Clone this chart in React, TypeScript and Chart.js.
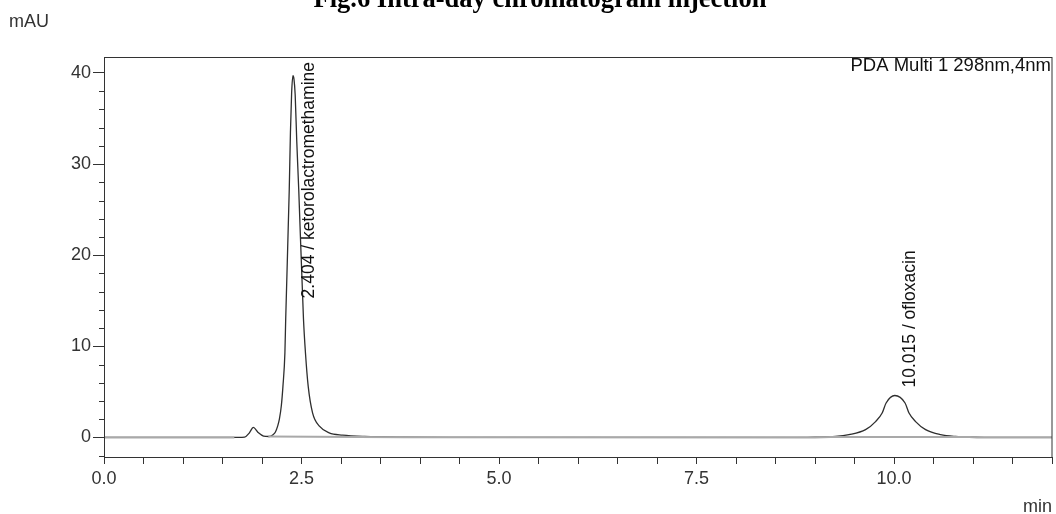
import React, { useEffect, useRef } from 'react';
import { Chart, registerables } from 'chart.js';

Chart.register(...registerables);

const titleText = 'Fig.6 Intra-day chromatogram injection';
const yUnit = 'mAU';
const xUnit = 'min';
const detectorText = 'PDA Multi 1 298nm,4nm';

// chromatogram trace (retention time in min, absorbance in mAU)
const traceTime = [
  0, 0.5, 1.0, 1.5, 1.70, 1.78, 1.84, 1.89, 1.95, 2.02, 2.09, 2.14, 2.17, 2.20, 2.22,
  2.245, 2.265, 2.29, 2.30, 2.345, 2.36, 2.375, 2.392, 2.405, 2.42, 2.44, 2.465, 2.525,
  2.55, 2.585, 2.64, 2.73, 2.85, 3.02, 3.3, 3.8, 4.5, 6.0, 7.5, 8.8, 9.0, 9.26, 9.43,
  9.64, 9.77, 9.85, 9.90, 10.01, 10.14, 10.19, 10.27, 10.40, 10.59, 10.78, 11.0, 11.3, 12.0,
];
const traceValue = [
  0, 0, 0, 0, 0, 0.03, 0.5, 1.1, 0.55, 0.15, 0.1, 0.3, 0.6, 1.3, 2.0,
  3.5, 5.6, 9.3, 13.0, 27.2, 33.5, 37.8, 39.7, 39.3, 37.6, 32.5, 27.2, 13.0,
  9.3, 5.6, 2.7, 1.2, 0.5, 0.25, 0.1, 0.03, 0.01, 0, 0, 0, 0.02, 0.1, 0.3,
  0.85, 1.76, 2.68, 3.78, 4.6, 3.78, 2.68, 1.76, 0.85, 0.3, 0.1, 0.03, 0, 0,
];

// integration baseline drawn by the software (null = gap)
const baselineTime = [0, 1.65, 1.8, 2.08, 3.8, 9.0, 9.2, 10.95, 11.05, 12];
const baselineValue = [0, 0, null, 0.1, 0.03, 0.0, 0.04, 0.04, 0, 0];

// peak annotations
const peakTime = [2.404, 10.015];
const peakHeight = [39.7, 4.6];
const peakName = ['ketorolactromethamine', 'ofloxacin'];

// axes
const xMin = 0;
const xMax = 12;
const xMinorStep = 0.5;
const xLabelStep = 2.5;
const yMin = -2.15;
const yMax = 41.75;
const yTickValues = [-2, 0, 2, 4, 6, 8, 10, 12, 14, 16, 18, 20, 22, 24, 26, 28, 30, 32, 34, 36, 38, 40];
const yLabelStep = 10;

const FONT = '"Liberation Sans", Arial, sans-serif';
const INK = '#333';

const decorPlugin = {
  id: 'decor',
  afterDatasetsDraw(chart: any) {
    const { ctx, chartArea, scales } = chart;
    const x = scales.x;
    const y = scales.y;
    ctx.save();
    // frame
    ctx.strokeStyle = INK;
    ctx.lineWidth = 1;
    ctx.strokeRect(chartArea.left + 0.5, chartArea.top + 0.5, chartArea.right - chartArea.left - 0.5, chartArea.bottom - chartArea.top);
    // minor y ticks
    ctx.beginPath();
    yTickValues.forEach((v) => {
      if (v % yLabelStep !== 0) {
        const py = Math.round(y.getPixelForValue(v)) + 0.5;
        ctx.moveTo(chartArea.left - 5, py);
        ctx.lineTo(chartArea.left, py);
      }
    });
    ctx.stroke();
    // peak labels
    ctx.font = `17.5px ${FONT}`;
    ctx.fillStyle = '#111';
    peakTime.forEach((t, i) => {
      const text = `${t.toFixed(3)} / ${peakName[i]}`;
      const w = ctx.measureText(text).width;
      const px = x.getPixelForValue(t);
      const py = y.getPixelForValue(peakHeight[i]);
      const start = Math.max(py - 8, chartArea.top + 5 + w);
      ctx.save();
      ctx.translate(px + 20, start);
      ctx.rotate(-Math.PI / 2);
      ctx.textAlign = 'left';
      ctx.textBaseline = 'alphabetic';
      ctx.fillText(text, 0, 0);
      ctx.restore();
    });
    // detector text
    ctx.font = `18.5px ${FONT}`;
    ctx.fillStyle = '#111';
    ctx.textAlign = 'right';
    ctx.textBaseline = 'alphabetic';
    ctx.fillText(detectorText, chartArea.right - 1, chartArea.top + 14);
    ctx.restore();
  },
  afterDraw(chart: any) {
    const { ctx, chartArea, width } = chart;
    ctx.save();
    ctx.fillStyle = '#000';
    ctx.font = `bold 26.5px "Liberation Serif", "Times New Roman", serif`;
    ctx.textAlign = 'center';
    ctx.textBaseline = 'alphabetic';
    ctx.fillText(titleText, 540, 7);
    ctx.font = `18px ${FONT}`;
    ctx.fillStyle = INK;
    ctx.textAlign = 'left';
    ctx.fillText(yUnit, 9, 27);
    ctx.textAlign = 'right';
    ctx.fillText(xUnit, chartArea.right, 512);
    ctx.restore();
  },
};

export default function App() {
  const ref = useRef<HTMLCanvasElement | null>(null);

  useEffect(() => {
    if (!ref.current) return;
    const chart = new Chart(ref.current, {
      type: 'line',
      data: {
        datasets: [
          {
            label: 'baseline',
            data: baselineTime.map((t, i) => ({ x: t, y: baselineValue[i] })),
            borderColor: '#a9a9a9',
            borderWidth: 2,
            pointRadius: 0,
            spanGaps: false,
            tension: 0,
            order: 0,
          },
          {
            label: 'PDA',
            data: traceTime.map((t, i) => ({ x: t, y: traceValue[i] })),
            borderColor: '#2e2e2e',
            borderWidth: 1.3,
            pointRadius: 0,
            cubicInterpolationMode: 'monotone',
            order: 1,
          },
        ] as any,
      },
      options: {
        animation: false,
        responsive: true,
        maintainAspectRatio: false,
        layout: { padding: { top: 57, right: 4, left: 0, bottom: 0 } },
        plugins: { legend: { display: false }, tooltip: { enabled: false }, title: { display: false } },
        scales: {
          x: {
            type: 'linear',
            min: xMin,
            max: xMax,
            afterFit: (s: any) => { s.height = 57; },
            ticks: {
              stepSize: xMinorStep,
              autoSkip: false,
              maxRotation: 0,
              padding: 4,
              color: INK,
              font: { family: FONT, size: 18 },
              callback: (v: any) => (Math.abs(v / xLabelStep - Math.round(v / xLabelStep)) < 1e-9 ? Number(v).toFixed(1) : ''),
            },
            grid: { drawOnChartArea: false, drawTicks: true, tickLength: 7, tickColor: INK },
            border: { display: true, color: INK, width: 1 },
          },
          y: {
            type: 'linear',
            min: yMin,
            max: yMax,
            afterFit: (s: any) => { s.width = 104; },
            afterBuildTicks: (s: any) => { s.ticks = yTickValues.map((v) => ({ value: v })); },
            ticks: {
              autoSkip: false,
              padding: 2,
              color: INK,
              font: { family: FONT, size: 18 },
              callback: (v: any) => (v % yLabelStep === 0 ? String(v) : ''),
            },
            grid: {
              drawOnChartArea: false,
              drawTicks: true,
              tickLength: 11,
              tickColor: (c: any) => (c.tick && c.tick.value % yLabelStep === 0 ? INK : 'rgba(0,0,0,0)'),
            },
            border: { display: true, color: INK, width: 1 },
          },
        },
      } as any,
      plugins: [decorPlugin],
    });
    return () => chart.destroy();
  }, []);

  return (
    <div style={{ position: 'fixed', left: 0, top: 0, width: 1056, height: 514, background: '#fff' }}>
      <canvas ref={ref} />
    </div>
  );
}
